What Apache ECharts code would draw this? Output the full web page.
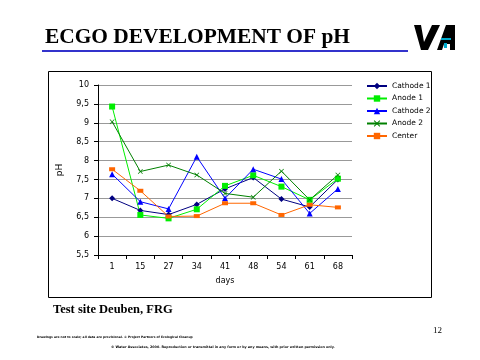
<!DOCTYPE html>
<html><head><meta charset="utf-8">
<script src="https://cdn.jsdelivr.net/npm/echarts@6/dist/echarts.min.js"></script>
<style>html,body{margin:0;padding:0;background:#fff}#c{width:480px;height:360px}</style>
</head><body><div id="c"></div>
<script>
const days = ['1','15','27','34','41','48','54','61','68'];
const cathode1 = [7.0, 6.68, 6.57, 6.84, 7.25, 7.55, 6.98, 6.77, 7.5];
const anode1   = [9.43, 6.56, 6.47, 6.71, 7.33, 7.61, 7.31, 6.96, 7.52];
const cathode2 = [7.64, 6.91, 6.72, 8.1, 7.0, 7.77, 7.51, 6.6, 7.25];
const anode2   = [9.03, 7.71, 7.88, 7.62, 7.13, 7.03, 7.72, 6.96, 7.62];
const center   = [7.77, 7.2, 6.52, 6.53, 6.87, 6.87, 6.56, 6.83, 6.76];

const chart = echarts.init(document.getElementById('c'), null, {renderer:'canvas'});
const sans = 'DejaVu Sans, Arial, sans-serif';
const serif = 'Liberation Serif, Times New Roman, serif';
function mk(name, data, color, symbol, size){
  return {name, type:'line', data, color, symbol, symbolSize:size, showSymbol:true,
    lineStyle:{width:1, color}, itemStyle:{color}, animation:false};
}
const xPath = 'path://M0,1L1,0L5,4L9,0L10,1L6,5L10,9L9,10L5,6L1,10L0,9L4,5Z';
chart.setOption({
  animation:false,
  grid:{left:98, right:128, top:85, bottom:105},
  xAxis:{type:'category', data:days, boundaryGap:true,
    name:'days', nameLocation:'middle', nameGap:22,
    nameTextStyle:{fontFamily:sans, fontSize:8, color:'#000'},
    axisLine:{lineStyle:{color:'#000', width:1}},
    axisTick:{show:true, inside:false, length:4, lineStyle:{color:'#000'}},
    axisLabel:{fontFamily:sans, fontSize:8, color:'#000', margin:8}},
  yAxis:{type:'value', min:5.5, max:10, interval:0.5,
    name:'pH', nameLocation:'middle', nameGap:34, nameRotate:90,
    nameTextStyle:{fontFamily:sans, fontSize:9, color:'#000'},
    axisLine:{show:true, lineStyle:{color:'#000', width:1}},
    axisTick:{show:true, length:4, lineStyle:{color:'#000'}},
    splitLine:{lineStyle:{color:'#999', width:1}},
    axisLabel:{fontFamily:sans, fontSize:8, color:'#000', margin:9,
      formatter:v=>String(v).replace('.',',')}},
  legend:{orient:'vertical', left:361, top:77, itemGap:4.5, itemWidth:20, itemHeight:8,
    textStyle:{fontFamily:sans, fontSize:7.5, color:'#000'},
    data:['Cathode 1','Anode 1','Cathode 2','Anode 2','Center']},
  series:[
    mk('Cathode 1', cathode1, '#000080', 'diamond', 6),
    mk('Anode 1', anode1, '#00ee00', 'rect', 6),
    mk('Cathode 2', cathode2, '#0000ff', 'triangle', 6),
    mk('Anode 2', anode2, '#008000', xPath, 5),
    mk('Center', center, '#ff6600', 'rect', [6,4])
  ],
  graphic:[
    {type:'rect', shape:{x:48.5, y:71.5, width:383, height:226}, style:{fill:null, stroke:'#000', lineWidth:1}, z:-1, silent:true},
    {type:'text', x:45, y:28, scaleX:1.07, style:{text:'ECGO DEVELOPMENT OF pH', font:'bold 20px '+serif, fill:'#000'}},
    {type:'rect', shape:{x:42, y:50, width:366, height:2}, style:{fill:'#3333cc'}},
    {type:'polygon', shape:{points:[[414,25],[421,25],[424,42],[432,25],[440,25],[428,50],[421,50]]}, style:{fill:'#000'}},
    {type:'polygon', shape:{points:[[437,50],[446,25],[455,25],[455,50],[450,50],[450,44],[444,44],[442,50]]}, style:{fill:'#000'}},
    {type:'rect', shape:{x:441, y:38, width:10, height:2}, style:{fill:'#00aacc'}},
    {type:'rect', shape:{x:444, y:43, width:3, height:5}, style:{fill:'#00aacc'}},
    {type:'text', left:53, top:303, style:{text:'Test site Deuben, FRG', font:'bold 12.5px '+serif, fill:'#000'}},
    {type:'text', left:433, top:326, style:{text:'12', font:'9px '+serif, fill:'#000'}},
    {type:'text', left:37, top:336, style:{text:'Drawings are not to scale; all data are provisional. © Project Partners of Ecological Cleanup', font:'bold 3px '+sans, fill:'#000'}},
    {type:'text', left:111, top:346, style:{text:'© Water Associates, 2000. Reproduction or transmittal in any form or by any means, with prior written permission only.', font:'bold 3.3px '+sans, fill:'#000'}}
  ]
});
</script></body></html>
